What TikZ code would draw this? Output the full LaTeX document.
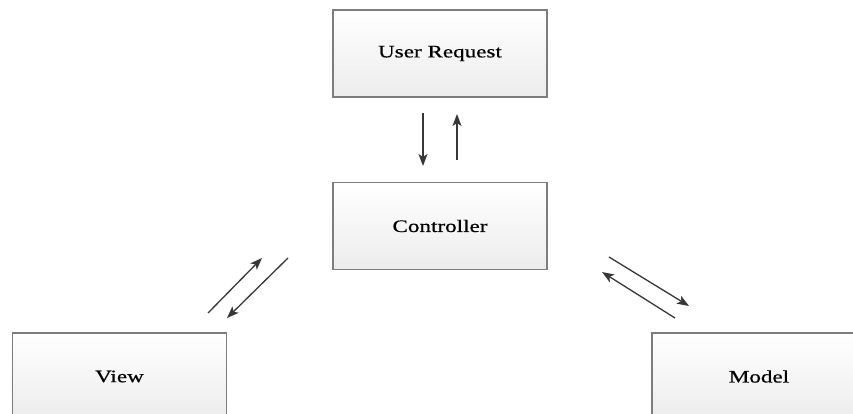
\documentclass[tikz,border=0pt]{standalone}
\usepackage{fontspec}
\setmainfont[FakeStretch=1.32, FakeBold=0.6]{Liberation Serif}
\usetikzlibrary{arrows.meta, calc, positioning}
\definecolor{boxedge}{RGB}{125,125,125}
\definecolor{boxlow}{RGB}{236,236,236}
\definecolor{arrowgray}{RGB}{55,55,55}

\tikzset{
    layerbox/.style={draw=boxedge, line width=1.5pt, top color=white, bottom color=boxlow,
        minimum width=214pt, minimum height=87pt, inner sep=0pt, font=\fontsize{17.5}{20}\selectfont},
    flow/.style={-{Stealth[length=12pt, width=9pt, inset=3pt]}, arrowgray, line width=1.3pt}
}

\begin{document}
\begin{tikzpicture}[x=1pt, y=-1pt]
    % Frame of the page
    \useasboundingbox (0,0) rectangle (853,414);
    \clip (0,0) rectangle (853,414);

    % Layers
    \node[layerbox] (request) at (440,53.5) {User Request};
    \node[layerbox] (controller) at (440,226) {Controller};
    \node[layerbox] (view) at (119.5,376.5) {View};
    \node[layerbox] (model) at (759,376.5) {Model};

    % Free ends of the arrows
    \coordinate (rq1) at (423,113);
    \coordinate (rq2) at (423,166);
    \coordinate (rq3) at (457,160);
    \coordinate (rq4) at (457,114);
    \coordinate (vw1) at (208,313);
    \coordinate (vw2) at (262,258);
    \coordinate (vw3) at (288,258);
    \coordinate (vw4) at (227,318);
    \coordinate (md1) at (609,257);
    \coordinate (md2) at (689,306);
    \coordinate (md3) at (675,318);
    \coordinate (md4) at (602,272);

    % Request and controller
    \draw[flow] (rq1) -- (rq2);
    \draw[flow] (rq3) -- (rq4);

    % View and controller
    \draw[flow] (vw1) -- (vw2);
    \draw[flow] (vw3) -- (vw4);

    % Controller and model
    \draw[flow] (md1) -- (md2);
    \draw[flow] (md3) -- (md4);
\end{tikzpicture}
\end{document}
